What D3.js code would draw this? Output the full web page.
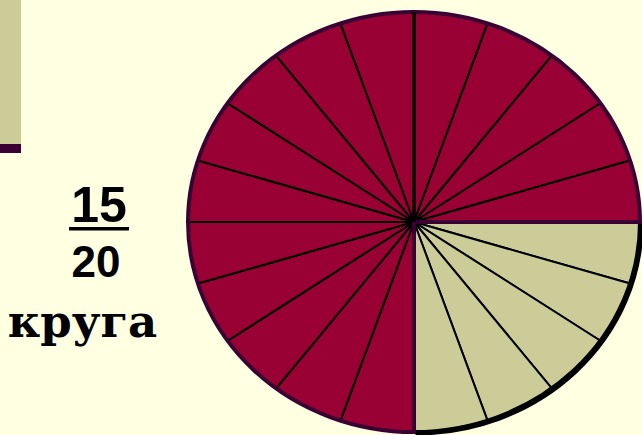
<!DOCTYPE html>
<html>
<head>
<meta charset="utf-8">
<script src="https://cdn.jsdelivr.net/npm/d3@7"></script>
<style>
  html, body { margin: 0; padding: 0; background: #ffffe1; }
  svg { display: block; }
</style>
</head>
<body>
<script>
const width = 642;
const height = 435;

// 20 equal parts, clockwise from 12 o'clock; false = the part that is left over
const sliceValues = [1, 1, 1, 1, 1, 1, 1, 1, 1, 1, 1, 1, 1, 1, 1, 1, 1, 1, 1, 1];
const sliceTaken  = [true, true, true, true, true, false, false, false, false, false,
                     true, true, true, true, true, true, true, true, true, true];
const numerator = "15";
const denominator = "20";
const caption = "круга";

const red = "#990033";
const beige = "#cccc99";
const purple = "#3a0033";

// the drawn pie is an ellipse, and its spokes are a little stretched sideways
const cx = 414, cy = 222, rx = 226, ry = 210;
const stretch = 1.14;

const svg = d3.select("body").append("svg").attr("width", width).attr("height", height);

// decorative block top-left
svg.append("rect").attr("x", 0).attr("y", 0).attr("width", 21).attr("height", 144).style("fill", beige);
svg.append("rect").attr("x", 0).attr("y", 144).attr("width", 21).attr("height", 9).style("fill", purple);

const pie = d3.pie().sort(null).value(d => d);
const arcs = pie(sliceValues);

// point on the ellipse edge for a pie angle (0 = 12 o'clock, clockwise)
function edge(a) {
  const dx = stretch * Math.sin(a), dy = -Math.cos(a);
  const t = 1 / Math.sqrt((dx / rx) ** 2 + (dy / ry) ** 2);
  return [dx * t, dy * t];
}
function sector(a0, a1) {
  const p0 = edge(a0), p1 = edge(a1);
  const large = (a1 - a0) > Math.PI ? 1 : 0;
  return `M0,0L${p0[0]},${p0[1]}A${rx},${ry} 0 ${large},1 ${p1[0]},${p1[1]}Z`;
}
function rim(a0, a1) {
  const p0 = edge(a0), p1 = edge(a1);
  const large = (a1 - a0) > Math.PI ? 1 : 0;
  return `M${p0[0]},${p0[1]}A${rx},${ry} 0 ${large},1 ${p1[0]},${p1[1]}`;
}

const g = svg.append("g").attr("transform", `translate(${cx},${cy})`);

g.selectAll("path.slice").data(arcs).enter().append("path").classed("slice", true)
  .attr("d", d => sector(d.startAngle, d.endAngle))
  .style("fill", (d, i) => sliceTaken[i] ? red : beige)
  .style("stroke", "#000").style("stroke-width", 2).style("stroke-linejoin", "round");

// outlines of the two groups
const rest = arcs.filter((d, i) => !sliceTaken[i]);
const r0 = d3.min(rest, d => d.startAngle), r1 = d3.max(rest, d => d.endAngle);

// shadow + black rim for the left-over part
g.append("path").attr("d", rim(r0, r1)).attr("transform", "translate(1.5,1.5)")
  .style("fill", "none").style("stroke", "#000").style("stroke-width", 4);
g.append("path").attr("d", rim(r0, r1))
  .style("fill", "none").style("stroke", "#000").style("stroke-width", 4);

g.append("path").attr("d", sector(r1, r0 + Math.PI * 2))
  .style("fill", "none").style("stroke", purple).style("stroke-width", 4).style("stroke-linejoin", "round");

// 12 o'clock radius a bit heavier
const noon = edge(0);
g.append("line").attr("x1", 0).attr("y1", 0).attr("x2", noon[0]).attr("y2", noon[1])
  .style("stroke", "#000").style("stroke-width", 3.5);

// fraction label
const font = "'Liberation Sans', Arial, sans-serif";
svg.append("text").attr("x", 99).attr("y", 222).text(numerator)
  .style("font-family", font).style("font-weight", "bold").style("font-size", "50px")
  .style("text-anchor", "middle").style("fill", "#000");
svg.append("rect").attr("x", 69).attr("y", 227).attr("width", 60).attr("height", 3.5).style("fill", "#000");
svg.append("text").attr("x", 96).attr("y", 277).text(denominator)
  .style("font-family", font).style("font-weight", "bold").style("font-size", "44px")
  .style("text-anchor", "middle").style("fill", "#000");
svg.append("text").attr("x", 82.5).attr("y", 337).text(caption)
  .style("font-family", "'DejaVu Serif', serif").style("font-weight", "bold").style("font-size", "45px")
  .style("text-anchor", "middle").style("fill", "#000");
</script>
</body>
</html>
